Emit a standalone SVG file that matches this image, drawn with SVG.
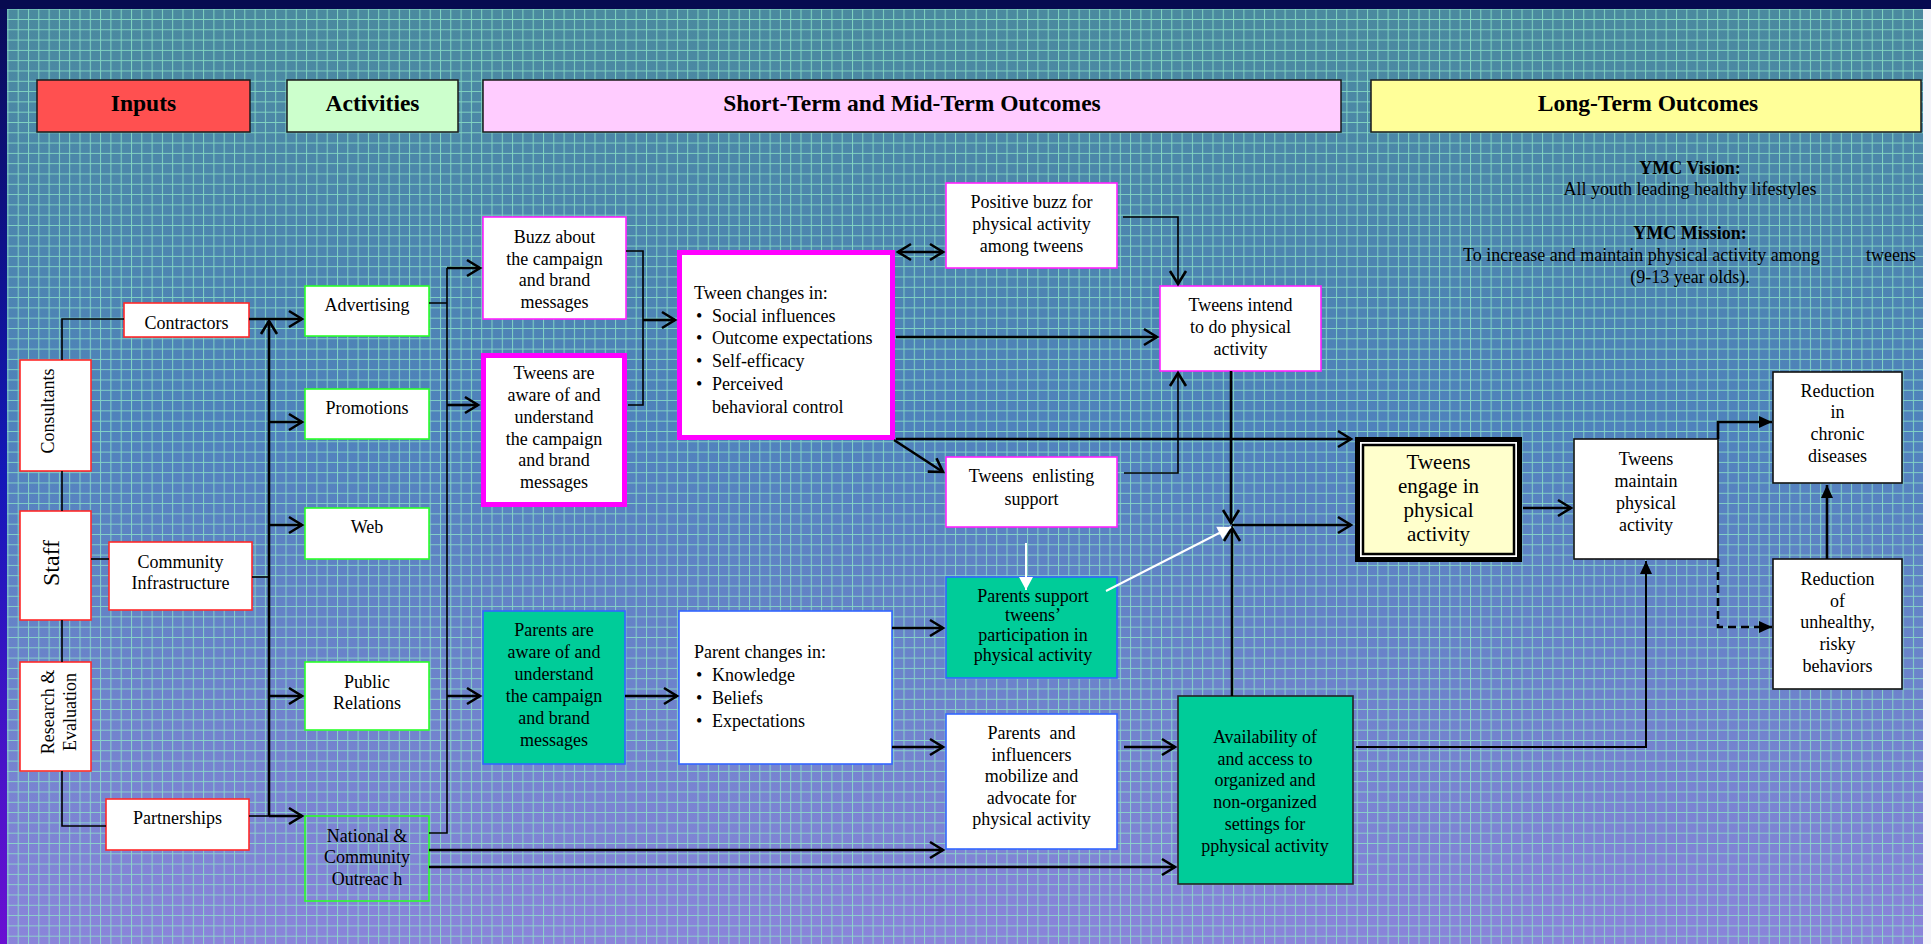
<svg xmlns="http://www.w3.org/2000/svg" width="1931" height="944" viewBox="0 0 1931 944">
<style>
.t{font-family:"Liberation Serif","Times New Roman",serif;font-size:18px;fill:#000;text-anchor:middle}
.h{font-weight:bold;font-size:23.5px}
.s{text-anchor:start}
.b{font-weight:bold}
.hdr{stroke:#1a1a1a;stroke-width:1.5}
.red{fill:#fff;stroke:#ff2a2a;stroke-width:1.6}
.grn{fill:#fff;stroke:#2bff2b;stroke-width:1.6}
.mag{fill:#fff;stroke:#ff22ff;stroke-width:1.6}
.magT{fill:#fff;stroke:#ff00ff;stroke-width:5}
.teal{fill:#00cc99;stroke:#3366ff;stroke-width:1.6}
.blu{fill:#fff;stroke:#3366ff;stroke-width:1.6}
.blk{fill:#fff;stroke:#111;stroke-width:1.6}
.c{fill:none;stroke:#000;stroke-width:2.6}
.thin{fill:none;stroke:#000;stroke-width:1.6}
.wh{fill:none;stroke:#fff;stroke-width:2}
.o{marker-end:url(#ao)}
.f{marker-end:url(#af)}
</style>
<defs>
<linearGradient id="bg" x1="0" y1="0" x2="0" y2="1">
<stop offset="0" stop-color="#4a8a9e"/>
<stop offset="0.45" stop-color="#4f82bc"/>
<stop offset="1" stop-color="#8a84da"/>
</linearGradient>
<linearGradient id="lb" x1="0" y1="0" x2="0" y2="1">
<stop offset="0" stop-color="#0a0c5a"/>
<stop offset="0.5" stop-color="#1418b8"/>
<stop offset="1" stop-color="#6a10d2"/>
</linearGradient>
<pattern id="grid" patternUnits="userSpaceOnUse" x="28" y="19" width="10.3" height="10.3">
<path d="M0,0.5 H10.3 M0.5,0 V10.3" stroke="#8fe6c8" stroke-opacity="0.8" stroke-width="1" fill="none"/>
</pattern>
<marker id="ao" markerUnits="userSpaceOnUse" viewBox="0 0 16 18" markerWidth="16" markerHeight="18" refX="14" refY="9" orient="auto-start-reverse" overflow="visible">
<path d="M1,1 L14,9 L1,17" fill="none" stroke="#000" stroke-width="2.6"/>
</marker>
<marker id="af" markerUnits="userSpaceOnUse" viewBox="0 0 14 12" markerWidth="14" markerHeight="12" refX="13" refY="6" orient="auto" overflow="visible">
<path d="M0,0 L13,6 L0,12 z" fill="#000"/>
</marker>
<marker id="aw" markerUnits="userSpaceOnUse" viewBox="0 0 14 14" markerWidth="14" markerHeight="14" refX="13" refY="7" orient="auto" overflow="visible">
<path d="M0,0 L13,7 L0,14 z" fill="#fff"/>
</marker>
</defs>

<g id="background">
<rect x="0" y="0" width="1931" height="944" fill="url(#bg)"/>
<rect x="0" y="0" width="1931" height="944" fill="url(#grid)"/>
<rect x="0" y="0" width="1931" height="9" fill="#070b50"/>
<rect x="0" y="9" width="7" height="935" fill="url(#lb)"/>
<rect x="1923" y="9" width="8" height="935" fill="#f4f4fa"/>
</g>

<g id="headers">
<g id="h-inputs"><rect class="hdr" x="37" y="80" width="213" height="52" fill="#ff5050"/><text class="t h" x="143.5" y="111">Inputs</text></g>
<g id="h-activities"><rect class="hdr" x="287" y="80" width="171" height="52" fill="#ccffcc"/><text class="t h" x="372.5" y="111">Activities</text></g>
<g id="h-short"><rect class="hdr" x="483" y="80" width="858" height="52" fill="#ffccff"/><text class="t h" x="912" y="111">Short-Term and Mid-Term Outcomes</text></g>
<g id="h-long"><rect class="hdr" x="1371" y="80" width="550" height="52" fill="#ffff99"/><text class="t h" x="1648" y="111">Long-Term Outcomes</text></g>
</g>

<g id="n-contractors"><rect class="red" x="124" y="303" width="125" height="34"/><text class="t" x="186.5" y="329">Contractors</text></g>
<g id="n-consultants"><rect class="red" x="20" y="360" width="71" height="111"/><text class="t" transform="translate(54,411) rotate(-90)">Consultants</text></g>
<g id="n-staff"><rect class="red" x="20" y="511" width="71" height="109"/><text class="t" style="font-size:24px" transform="translate(59,563) rotate(-90)">Staff</text></g>
<g id="n-community"><rect class="red" x="109" y="542" width="143" height="68"/><text class="t" x="180.5" y="568">Community</text><text class="t" x="180.5" y="589">Infrastructure</text></g>
<g id="n-research"><rect class="red" x="20" y="662" width="71" height="109"/><text class="t" transform="translate(55.5,712) rotate(-90)"><tspan x="0" y="-1.5">Research &amp;</tspan><tspan x="0" y="20.5">Evaluation</tspan></text></g>
<g id="n-partnerships"><rect class="red" x="106" y="799" width="143" height="51"/><text class="t" x="177.5" y="824">Partnerships</text></g>

<g id="n-advertising"><rect class="grn" x="305" y="286" width="124" height="50"/><text class="t" x="367" y="311">Advertising</text></g>
<g id="n-promotions"><rect class="grn" x="305" y="389" width="124" height="50"/><text class="t" x="367" y="414">Promotions</text></g>
<g id="n-web"><rect class="grn" x="305" y="508" width="124" height="51"/><text class="t" x="367" y="533">Web</text></g>
<g id="n-pr"><rect class="grn" x="305" y="662" width="124" height="68"/><text class="t" x="367" y="688">Public</text><text class="t" x="367" y="709">Relations</text></g>
<g id="n-outreach"><rect class="grn" style="fill:none" x="305" y="816" width="124" height="85"/><text class="t" x="367" y="842">National &amp;</text><text class="t" x="367" y="863">Community</text><text class="t" x="367" y="885">Outreac h</text></g>

<g id="n-buzz"><rect class="mag" x="483" y="217" width="143" height="102"/>
<text class="t" x="554.5" y="243">Buzz about</text><text class="t" x="554.5" y="264.5">the campaign</text><text class="t" x="554.5" y="286">and brand</text><text class="t" x="554.5" y="308">messages</text></g>
<g id="n-tweens-aware"><rect class="magT" x="483.5" y="355.5" width="141" height="149"/>
<text class="t" x="554" y="379">Tweens are</text><text class="t" x="554" y="401">aware of and</text><text class="t" x="554" y="423">understand</text><text class="t" x="554" y="445">the campaign</text><text class="t" x="554" y="466">and brand</text><text class="t" x="554" y="488">messages</text></g>
<g id="n-tween-changes"><rect class="magT" x="679.5" y="252.5" width="213" height="185"/>
<text class="t s" x="694" y="299">Tween changes in:</text>
<text class="t s" x="696" y="321.7">•</text><text class="t s" x="712" y="321.7">Social influences</text>
<text class="t s" x="696" y="344.4">•</text><text class="t s" x="712" y="344.4">Outcome expectations</text>
<text class="t s" x="696" y="367">•</text><text class="t s" x="712" y="367">Self-efficacy</text>
<text class="t s" x="696" y="389.8">•</text><text class="t s" x="712" y="389.8">Perceived</text>
<text class="t s" x="712" y="412.5">behavioral control</text></g>
<g id="n-positive-buzz"><rect class="mag" x="946" y="183" width="171" height="85"/>
<text class="t" x="1031.5" y="208">Positive buzz for</text><text class="t" x="1031.5" y="230">physical activity</text><text class="t" x="1031.5" y="252">among tweens</text></g>
<g id="n-tweens-intend"><rect class="mag" x="1160" y="286" width="161" height="85"/>
<text class="t" x="1240.5" y="311">Tweens intend</text><text class="t" x="1240.5" y="333">to do physical</text><text class="t" x="1240.5" y="355">activity</text></g>
<g id="n-tweens-enlisting"><rect class="mag" x="946" y="457" width="171" height="70"/>
<text class="t" x="1031.5" y="482" xml:space="preserve">Tweens  enlisting</text><text class="t" x="1031.5" y="505">support</text></g>

<g id="n-parents-aware"><rect class="teal" x="483" y="611" width="142" height="153"/>
<text class="t" x="554" y="636">Parents are</text><text class="t" x="554" y="658">aware of and</text><text class="t" x="554" y="680">understand</text><text class="t" x="554" y="702">the campaign</text><text class="t" x="554" y="724">and brand</text><text class="t" x="554" y="746">messages</text></g>
<g id="n-parent-changes"><rect class="blu" x="679" y="611" width="213" height="153"/>
<text class="t s" x="694" y="658">Parent changes in:</text>
<text class="t s" x="696" y="681">•</text><text class="t s" x="712" y="681">Knowledge</text>
<text class="t s" x="696" y="704">•</text><text class="t s" x="712" y="704">Beliefs</text>
<text class="t s" x="696" y="727">•</text><text class="t s" x="712" y="727">Expectations</text></g>
<g id="n-parents-support"><rect class="teal" x="946" y="577" width="171" height="101"/>
<text class="t" x="1033" y="602">Parents support</text><text class="t" x="1033" y="621">tweens’</text><text class="t" x="1033" y="641">participation in</text><text class="t" x="1033" y="661">physical activity</text></g>
<g id="n-parents-influencers"><rect class="blu" x="946" y="714" width="171" height="135"/>
<text class="t" x="1031.5" y="739" xml:space="preserve">Parents  and</text><text class="t" x="1031.5" y="761">influencers</text><text class="t" x="1031.5" y="782">mobilize and</text><text class="t" x="1031.5" y="804">advocate for</text><text class="t" x="1031.5" y="825">physical activity</text></g>
<g id="n-availability"><rect x="1178" y="696" width="175" height="188" fill="#00cc99" stroke="#222" stroke-width="1.6"/>
<text class="t" x="1265" y="743">Availability of</text><text class="t" x="1265" y="765">and access to</text><text class="t" x="1265" y="786">organized and</text><text class="t" x="1265" y="808">non-organized</text><text class="t" x="1265" y="830">settings for</text><text class="t" x="1265" y="852">pphysical activity</text></g>

<g id="n-ymc">
<text class="t b" x="1690" y="174">YMC Vision:</text>
<text class="t" x="1690" y="195">All youth leading healthy lifestyles</text>
<text class="t b" x="1690" y="239">YMC Mission:</text>
<text class="t s" x="1463" y="261">To increase and maintain physical activity among</text>
<text class="t s" x="1866" y="261">tweens</text>
<text class="t" x="1690" y="283">(9-13 year olds).</text>
</g>
<g id="n-tweens-engage"><rect x="1357.5" y="439.5" width="162" height="120" fill="#fff" stroke="#000" stroke-width="5"/>
<rect x="1363" y="445" width="151" height="109" fill="#ffffcc" stroke="#000" stroke-width="2.5"/>
<text class="t" style="font-size:21px" x="1438.5" y="469">Tweens</text><text class="t" style="font-size:21px" x="1438.5" y="493">engage in</text><text class="t" style="font-size:21px" x="1438.5" y="517">physical</text><text class="t" style="font-size:21px" x="1438.5" y="541">activity</text></g>
<g id="n-tweens-maintain"><rect class="blk" x="1574" y="439" width="144" height="120"/>
<text class="t" x="1646" y="465">Tweens</text><text class="t" x="1646" y="487">maintain</text><text class="t" x="1646" y="509">physical</text><text class="t" x="1646" y="531">activity</text></g>
<g id="n-reduction-chronic"><rect class="blk" x="1773" y="372" width="129" height="111"/>
<text class="t" x="1837.5" y="397">Reduction</text><text class="t" x="1837.5" y="418">in</text><text class="t" x="1837.5" y="440">chronic</text><text class="t" x="1837.5" y="462">diseases</text></g>
<g id="n-reduction-risky"><rect class="blk" x="1773" y="559" width="129" height="130"/>
<text class="t" x="1837.5" y="585">Reduction</text><text class="t" x="1837.5" y="607">of</text><text class="t" x="1837.5" y="628">unhealthy,</text><text class="t" x="1837.5" y="650">risky</text><text class="t" x="1837.5" y="672">behaviors</text></g>

<g id="connectors">
<path class="thin" d="M124,319 H62 V360 M62,471 V511 M62,620 V662 M62,771 V826 H106"/>
<path class="thin" d="M91,559 H109"/>
<path class="c o" d="M249,319 H302"/>
<path class="c o" d="M269,816 V321"/>
<path class="thin" d="M252,577 H269"/>
<path class="thin" d="M249,816 H269"/>
<path class="c o" d="M269,422 H302"/>
<path class="c o" d="M269,525 H302"/>
<path class="c o" d="M269,696 H302"/>
<path class="c o" d="M269,816 H302"/>
<path class="thin" d="M429,303 H447 M447,268 V833 H429"/>
<path class="c o" d="M447,268 H480"/>
<path class="c o" d="M447,405 H478"/>
<path class="c o" d="M447,696 H480"/>
<path class="c o" d="M429,850 H943"/>
<path class="c o" d="M429,867 H1175"/>
<path class="thin" d="M626,251 H643 V405 H628"/>
<path class="c o" d="M643,320 H675"/>
<path class="c o" style="marker-start:url(#ao)" d="M898,252 H943"/>
<path class="c o" d="M896,337 H1157"/>
<path class="c o" d="M896,439 H1351"/>
<path class="c o" d="M894,440 L943,472"/>
<path class="thin o" d="M1123,217 H1178 V284"/>
<path class="thin o" d="M1124,473 H1178 V373"/>
<path class="c o" d="M1231,371 V523"/>
<path class="c o" d="M1232,525 H1351"/>
<path class="c o" d="M1232,696 V528"/>
<path class="wh" style="marker-end:url(#aw)" d="M1026,543 V590"/>
<path class="wh" style="marker-end:url(#aw)" d="M1106,591 L1231,527"/>
<path class="c o" d="M625,696 H677"/>
<path class="c o" d="M892,628 H943"/>
<path class="c o" d="M892,747 H943"/>
<path class="c o" d="M1124,747 H1175"/>
<path class="thin f" style="stroke-width:2" d="M1356,747 H1646 V561"/>
<path class="c o" d="M1523,508 H1571"/>
<path class="c f" d="M1718,439 V422 H1772"/>
<path class="c f" style="stroke-dasharray:8 5" d="M1718,559 V627 H1772"/>
<path class="c f" d="M1827,559 V485"/>
</g>
</svg>
